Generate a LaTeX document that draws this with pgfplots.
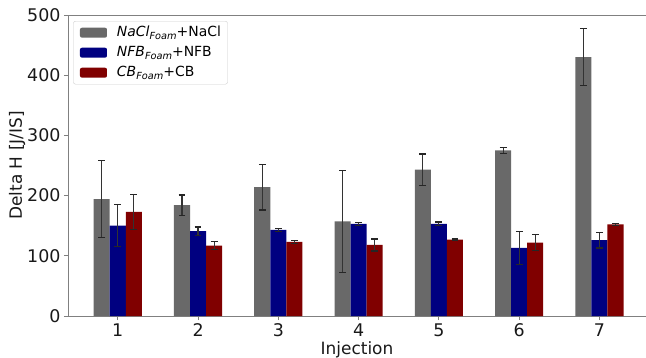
\documentclass[border=0pt]{standalone}
\usepackage{pgfplots}
\pgfplotsset{compat=1.18}
\usepackage{fontspec}
\setmainfont{DejaVu Sans}
\definecolor{cgrey}{HTML}{696969}
\definecolor{cnavy}{HTML}{000080}
\definecolor{cmaroon}{HTML}{800000}
\definecolor{spine}{HTML}{808080}
\newcommand\sub[1]{\raisebox{-2.8bp}{\fontsize{9.8}{10}\selectfont\itshape #1}}
\begin{document}
\begin{tikzpicture}
\begin{axis}[
  name=ax,
  scale only axis,
  width=578bp, height=301bp,
  xmin=0.38, xmax=7.58,
  ymin=0, ymax=500,
  axis x line*=bottom, axis y line*=left,
  axis line style={spine, line width=0.9pt, -},
  xtick={1,2,3,4,5,6,7},
  ytick={0,100,200,300,400,500},
  tick align=outside,
  tick style={spine, line width=0.9pt},
  major tick length=4bp,
  tick label style={font=\fontsize{17.5}{19}\selectfont, text=black!90},
  /pgf/number format/assume math mode=true,
  xlabel={Injection},
  ylabel={Delta H [J/IS]},
  label style={font=\fontsize{17}{19}\selectfont, text=black!90},
  xlabel style={yshift=1.5bp},
  ylabel style={yshift=-5bp},
  ybar, bar width=0.2,
  legend style={at={(rel axis cs:0,1)}, anchor=north west, xshift=5.3bp, yshift=-6bp,
    font=\fontsize{14}{16}\selectfont, draw=black!20, rounded corners=2pt,
    nodes={inner sep=0pt, text height=10.5bp, text depth=3.5bp},
    row sep=6bp, inner xsep=6.5bp, inner ysep=4.5bp,
    /tikz/every odd column/.append style={column sep=10bp}},
  legend cell align=left,
  legend image code/.code={\fill[#1] (0bp,-5bp) rectangle (27bp,5bp);},
  error bars/error bar style={black!80, line width=1.2pt},
  error bars/error mark options={rotate=90, mark size=3.4bp, black!85, line width=1.2pt},
]
\addplot[fill=cgrey, draw=none, bar shift=-0.2, error bars/.cd, y dir=both, y explicit] coordinates {
 (1,194) +- (0,64)
 (2,184) +- (0,17)
 (3,214) +- (0,38)
 (4,157) +- (0,85)
 (5,243) +- (0,26)
 (6,275) +- (0,5)
 (7,430) +- (0,47)
};
\addlegendentry{\textit{NaCl}\sub{Foam}+NaCl}
\addplot[fill=cnavy, draw=none, bar shift=0, error bars/.cd, y dir=both, y explicit] coordinates {
 (1,150) +- (0,35)
 (2,141) +- (0,7)
 (3,143) +- (0,3)
 (4,153) +- (0,2)
 (5,153) +- (0,3)
 (6,113) +- (0,28)
 (7,126) +- (0,13)
};
\addlegendentry{\textit{NFB}\sub{Foam}+NFB}
\addplot[fill=cmaroon, draw=none, bar shift=0.2, error bars/.cd, y dir=both, y explicit] coordinates {
 (1,173) +- (0,29)
 (2,117) +- (0,7)
 (3,123) +- (0,2)
 (4,118) +- (0,10)
 (5,127) +- (0,1)
 (6,122) +- (0,13)
 (7,152) +- (0,1)
};
\addlegendentry{\textit{CB}\sub{Foam}+CB}
\draw[spine, line width=0.9pt] (rel axis cs:0,1) -- (rel axis cs:1,1);
\end{axis}
\pgfresetboundingbox
\path[use as bounding box] ([shift={(-68bp,-42bp)}]ax.south west) rectangle ([shift={(0bp,15bp)}]ax.north east);
\end{tikzpicture}
\end{document}
